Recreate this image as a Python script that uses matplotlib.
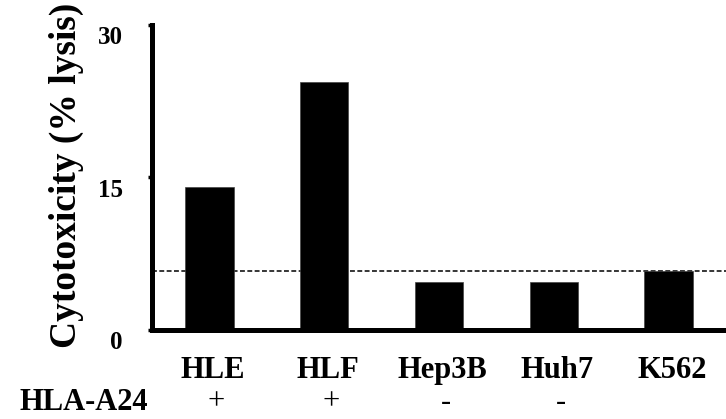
import matplotlib
matplotlib.use("Agg")
import matplotlib.pyplot as plt
import matplotlib.transforms as mtransforms

plt.rcParams['font.family'] = ['Liberation Serif', 'DejaVu Serif']
plt.rcParams['font.weight'] = 'bold'

cells = ["HLE", "HLF", "Hep3B", "Huh7", "K562"]
lysis = [14.1, 24.4, 4.7, 4.7, 5.85]
hla_a24 = ["+", "+", "-", "-", ""]
threshold = 5.85
yticks = [0, 15, 30]

fig = plt.figure(figsize=(7.26, 4.19), dpi=100)
ax = fig.add_axes([152 / 726, 1 - 330 / 419, 1 - 152 / 726, 305 / 419])

x = list(range(len(cells)))
ax.bar(x, lysis, width=0.42, color="black", edgecolor="#444444", linewidth=0.5, zorder=2)
ax.axhline(threshold, color="black", lw=1.1, ls=(0, (3.2, 1.6)), zorder=1)

ax.set_xlim(-0.5, 4.5)
ax.set_ylim(0, 30)

for s in ("top", "right"):
    ax.spines[s].set_visible(False)
for s in ("left", "bottom"):
    ax.spines[s].set_linewidth(3.6)
    ax.spines[s].set_capstyle("projecting")

ax.set_yticks(yticks)
ax.set_yticklabels([str(v) for v in yticks], fontsize=18, fontweight="bold")
ax.tick_params(axis="y", length=3, width=2.5, pad=18)
# tick numbers sit a little below their ticks
offset = mtransforms.ScaledTranslation(0, -10 / 100, fig.dpi_scale_trans)
for lbl in ax.get_yticklabels():
    lbl.set_transform(lbl.get_transform() + offset)

ax.set_xticks([])
for xi, name, sign in zip(x, cells, hla_a24):
    ax.text(xi + 0.03, -40 / 10.15, name, ha="center", va="center",
            fontsize=22, fontweight="bold", clip_on=False)
    if sign:
        ax.text(xi + 0.06, -72 / 10.15, sign, ha="center", va="center",
                fontsize=22, fontweight="normal", clip_on=False)

fig.text(148 / 726, 1 - 402 / 419, "HLA-A24", ha="right", va="center",
         fontsize=22, fontweight="bold")

fig.text(66 / 726, 1 - 175 / 419, "Cytotoxicity (% lysis)", rotation=90,
         ha="center", va="center", fontsize=27, fontweight="bold")

fig.savefig("out.png", dpi=100)
